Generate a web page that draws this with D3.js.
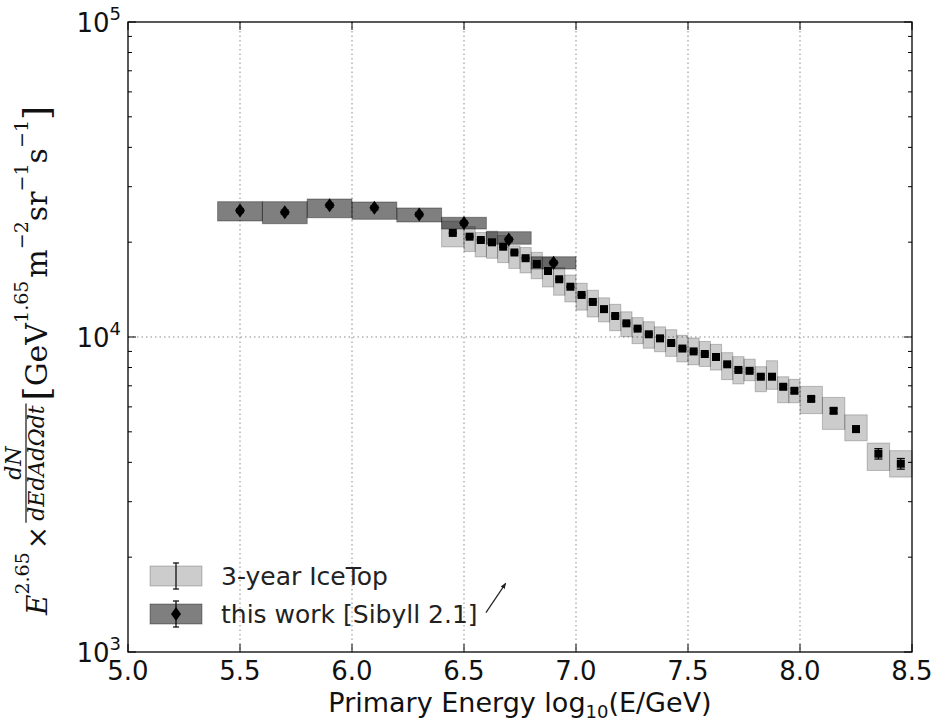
<!DOCTYPE html>
<html>
<head>
<meta charset="utf-8">
<script src="https://cdn.jsdelivr.net/npm/d3@7"></script>
<style>
  body { margin: 0; background: #fff; }
  svg { display: block; font-family: "DejaVu Sans", sans-serif; }
</style>
</head>
<body>
<div id="chart"></div>
<script>
let width = 936;
let height = 721;

// this work [Sibyll 2.1] - 0.2 wide bins
const sibyllEdges = [5.4, 5.6, 5.8, 6.0, 6.2, 6.4, 6.6, 6.8, 7.0];
const sibyllE = [5.5, 5.7, 5.9, 6.1, 6.3, 6.5, 6.7, 6.9];
const sibyllFlux = [25200, 24900, 26200, 25700, 24500, 23000, 20400, 17200];
const sibyllSysLo = [23350, 22890, 23910, 23640, 23180, 22020, 19700, 16440];
const sibyllSysHi = [26890, 26890, 27420, 26830, 25680, 23990, 21590, 17980];
const sibyllStat = [1.5, 1.5, 1.5, 1.5, 1.5, 1.5, 1.5, 1.5]; // percent

// 3-year IceTop
const icetopEdges = [6.4, 6.5, 6.55, 6.6, 6.65, 6.7, 6.75, 6.8, 6.85, 6.9, 6.95,
                     7.0, 7.05, 7.1, 7.15, 7.2, 7.25, 7.3, 7.35, 7.4, 7.45,
                     7.5, 7.55, 7.6, 7.65, 7.7, 7.75, 7.8, 7.85, 7.9, 7.95,
                     8.0, 8.1, 8.2, 8.3, 8.4, 8.5];
const icetopE = [6.45, 6.525, 6.575, 6.625, 6.675, 6.725, 6.775, 6.825, 6.875, 6.925,
                 6.975, 7.025, 7.075, 7.125, 7.175, 7.225, 7.275, 7.325, 7.375, 7.425,
                 7.475, 7.525, 7.575, 7.625, 7.675, 7.725, 7.775, 7.825, 7.875, 7.925,
                 7.975, 8.05, 8.15, 8.25, 8.35, 8.45];
const icetopFlux = [21400, 20820, 20320, 19980, 19350, 18550, 17790, 17050, 16200, 15250,
                    14440, 13600, 12920, 12260, 11660, 11050, 10630, 10200, 9900, 9570,
                    9190, 9000, 8830, 8640, 8190, 7860, 7810, 7480, 7480, 6950,
                    6750, 6360, 5830, 5100, 4260, 3960];
// systematic band, percent up / down
const icetopSysUp = [9, 7.6, 5.6, 8.5, 8.5, 5, 8.1, 8.9, 10.3, 8.9,
                     8.9, 8.9, 8.9, 8.6, 8.9, 8.8, 8.4, 9.6, 8.8, 10.2,
                     10.2, 10.3, 9.6, 9.7, 8.9, 10.2, 8.9, 7.6, 12.4, 7.6,
                     8.7, 9.6, 10.3, 11.0, 8.1, 10.0];
const icetopSysDown = [9.7, 10.3, 11.6, 11, 11, 11, 10.2, 10.2, 11, 11,
                       10.5, 10.5, 10.4, 8.9, 10.2, 9.3, 10.4, 9.7, 9.3, 9.3,
                       9.3, 9.3, 8.7, 9.1, 10.6, 9.7, 7.0, 10.4, 8.8, 11.0,
                       8.4, 10.2, 12.7, 8.2, 11.5, 9.3];
const icetopStat = [0.5, 0.5, 0.5, 0.5, 0.5, 0.5, 0.5, 0.5, 0.5, 0.5,
                    0.5, 0.5, 0.5, 0.5, 0.5, 0.5, 0.5, 0.6, 0.6, 0.6,
                    0.7, 0.7, 0.8, 0.8, 0.9, 1.0, 1.0, 1.1, 1.2, 1.3,
                    1.4, 1.5, 1.8, 2.2, 3.8, 3.9];

const xTicks = [5.0, 5.5, 6.0, 6.5, 7.0, 7.5, 8.0, 8.5];
const yTicks = [1e3, 1e4, 1e5];
const legendLabels = ["3-year IceTop", "this work [Sibyll 2.1]"];
// small arrow next to the legend, in data units [log10E, flux]
const arrowFrom = [6.598, 1333];
const arrowTo = [6.686, 1652];

let margin = {left: 128, right: 24, top: 22, bottom: 69};

const x = d3.scaleLinear().domain([5.0, 8.5]).range([margin.left, width - margin.right]);
const y = d3.scaleLog().domain([1e3, 1e5]).range([height - margin.bottom, margin.top]);

let svg = d3.select("#chart").append("svg")
    .attr("width", width)
    .attr("height", height);

const x0 = x.range()[0], x1 = x.range()[1];
const y0 = y.range()[0], y1 = y.range()[1];

// grid
const grid = svg.append("g")
    .attr("stroke", "#8a8a8a")
    .attr("stroke-width", 1)
    .attr("stroke-dasharray", "1.5,3");
grid.selectAll("line.gx")
    .data(xTicks.slice(1, -1))
    .join("line")
    .attr("x1", d => x(d)).attr("x2", d => x(d))
    .attr("y1", y1).attr("y2", y0);
grid.append("line")
    .attr("x1", x0).attr("x2", x1)
    .attr("y1", y(1e4)).attr("y2", y(1e4));

// IceTop systematic boxes
const icetop = icetopE.map((e, i) => ({
    lo: icetopEdges[i], hi: icetopEdges[i + 1], e: e, v: icetopFlux[i],
    top: icetopFlux[i] * (1 + icetopSysUp[i] / 100),
    bot: icetopFlux[i] * (1 - icetopSysDown[i] / 100),
    st: icetopStat[i]
}));
const sibyll = sibyllE.map((e, i) => ({
    lo: sibyllEdges[i], hi: sibyllEdges[i + 1], e: e, v: sibyllFlux[i],
    top: sibyllSysHi[i], bot: sibyllSysLo[i], st: sibyllStat[i]
}));

svg.append("g")
    .selectAll("rect")
    .data(icetop)
    .join("rect")
    .attr("x", d => x(d.lo))
    .attr("width", d => x(d.hi) - x(d.lo))
    .attr("y", d => y(d.top))
    .attr("height", d => y(d.bot) - y(d.top))
    .attr("fill", "#000").attr("fill-opacity", 0.2)
    .attr("stroke", "#000").attr("stroke-opacity", 0.22);

svg.append("g")
    .selectAll("rect")
    .data(sibyll)
    .join("rect")
    .attr("x", d => x(d.lo))
    .attr("width", d => x(d.hi) - x(d.lo))
    .attr("y", d => y(d.top))
    .attr("height", d => y(d.bot) - y(d.top))
    .attr("fill", "#000").attr("fill-opacity", 0.5)
    .attr("stroke", "#000").attr("stroke-opacity", 0.35);

// error bars
function errorbars(g, data) {
    const eb = g.selectAll("g").data(data).join("g").attr("stroke", "#000").attr("stroke-width", 1.2);
    eb.append("line")
        .attr("x1", d => x(d.e)).attr("x2", d => x(d.e))
        .attr("y1", d => y(d.v * (1 + d.st / 100))).attr("y2", d => y(d.v * (1 - d.st / 100)));
    eb.append("line")
        .attr("x1", d => x(d.e) - 4).attr("x2", d => x(d.e) + 4)
        .attr("y1", d => y(d.v * (1 + d.st / 100))).attr("y2", d => y(d.v * (1 + d.st / 100)));
    eb.append("line")
        .attr("x1", d => x(d.e) - 4).attr("x2", d => x(d.e) + 4)
        .attr("y1", d => y(d.v * (1 - d.st / 100))).attr("y2", d => y(d.v * (1 - d.st / 100)));
}
errorbars(svg.append("g"), icetop);
errorbars(svg.append("g"), sibyll);

const square = d3.symbol().type(d3.symbolSquare).size(64);
const diamond = "M0,-7L5,0L0,7L-5,0Z";

svg.append("g")
    .selectAll("path")
    .data(icetop)
    .join("path")
    .attr("transform", d => `translate(${x(d.e)},${y(d.v)})`)
    .attr("d", square)
    .attr("fill", "#000");

svg.append("g")
    .selectAll("path")
    .data(sibyll)
    .join("path")
    .attr("transform", d => `translate(${x(d.e)},${y(d.v)})`)
    .attr("d", diamond)
    .attr("fill", "#000");

// frame + ticks
svg.append("rect")
    .attr("x", x0).attr("y", y1)
    .attr("width", x1 - x0).attr("height", y0 - y1)
    .attr("fill", "none").attr("stroke", "#000").attr("stroke-width", 1.3);

const ticks = svg.append("g").attr("stroke", "#000").attr("stroke-width", 1);
ticks.selectAll("line.xb").data(xTicks).join("line")
    .attr("x1", d => x(d)).attr("x2", d => x(d))
    .attr("y1", y0).attr("y2", y0 - 8);
ticks.selectAll("line.xt").data(xTicks).join("line")
    .attr("x1", d => x(d)).attr("x2", d => x(d))
    .attr("y1", y1).attr("y2", y1 + 8);
const minor = y.ticks().filter(v => yTicks.indexOf(v) < 0);
ticks.selectAll("line.yl").data(minor).join("line")
    .attr("x1", x0).attr("x2", x0 + 4)
    .attr("y1", d => y(d)).attr("y2", d => y(d));
ticks.selectAll("line.yr").data(minor).join("line")
    .attr("x1", x1).attr("x2", x1 - 4)
    .attr("y1", d => y(d)).attr("y2", d => y(d));
ticks.selectAll("line.ylm").data(yTicks).join("line")
    .attr("x1", x0).attr("x2", x0 + 8)
    .attr("y1", d => y(d)).attr("y2", d => y(d));
ticks.selectAll("line.yrm").data(yTicks).join("line")
    .attr("x1", x1).attr("x2", x1 - 8)
    .attr("y1", d => y(d)).attr("y2", d => y(d));

// tick labels
svg.append("g")
    .selectAll("text")
    .data(xTicks)
    .join("text")
    .attr("x", d => x(d))
    .attr("y", y0 + 28)
    .attr("text-anchor", "middle")
    .style("font-size", "26px")
    .attr("fill", "#111")
    .text(d => d.toFixed(1));

const yl = svg.append("g")
    .selectAll("text")
    .data(yTicks)
    .join("text")
    .attr("x", x0 - 7)
    .attr("y", d => y(d) + 10)
    .attr("text-anchor", "end")
    .attr("fill", "#111")
    .style("font-size", "26px");
yl.append("tspan").text("10");
yl.append("tspan").attr("dy", -12).style("font-size", "18px").text(d => Math.round(Math.log10(d)));

// x axis title
const xt = svg.append("text")
    .attr("x", (x0 + x1) / 2)
    .attr("y", 712)
    .attr("text-anchor", "middle")
    .attr("fill", "#111")
    .style("font-size", "27px");
xt.append("tspan").text("Primary Energy log");
xt.append("tspan").attr("dy", 6).style("font-size", "18px").text("10");
xt.append("tspan").attr("dy", -6).text("(E/GeV)");

// y axis title (math, serif)
const ya = svg.append("g")
    .attr("transform", "translate(47,615) rotate(-90)")
    .style("font-family", "'DejaVu Serif', serif")
    .attr("fill", "#111");
let cx = 0;
function put(str, size, dy, italic) {
    const t = ya.append("text").attr("x", cx).attr("y", dy)
        .style("font-size", size + "px")
        .style("font-style", italic ? "italic" : "normal")
        .text(str);
    cx += t.node().getComputedTextLength();
    return t;
}
put("E", 28, 0, true);
put("2.65", 19, -18, false);
cx += 3;
put("\u00d7", 28, 0, false);
cx += 3;
// fraction
const fx = cx;
const num = ya.append("text").attr("y", -26).style("font-size", "22px").style("font-style", "italic").text("dN");
const den = ya.append("text").attr("y", -3).style("font-size", "22px").style("font-style", "italic").text("dEdAd\u03a9dt");
const fw = Math.max(num.node().getComputedTextLength(), den.node().getComputedTextLength()) + 4;
num.attr("x", fx + fw / 2).attr("text-anchor", "middle");
den.attr("x", fx + fw / 2).attr("text-anchor", "middle");
ya.append("line").attr("x1", fx).attr("x2", fx + fw).attr("y1", -21).attr("y2", -21)
    .attr("stroke", "#111").attr("stroke-width", 1.2);
cx = fx + fw + 3;
put("[", 36, 2, false);
put("GeV", 30, 0, false);
put("1.65", 19, -19, false);
cx += 3;
put("m", 30, 0, false);
put("\u22122", 19, -19, false);
put("sr", 30, 0, false);
put("\u22121", 19, -19, false);
put("s", 30, 0, false);
put("\u22121", 19, -19, false);
put("]", 36, 2, false);

// legend
const legend = svg.append("g");
const legRows = [
    {label: legendLabels[0], op: 0.2, sop: 0.22, y: 576, mark: square},
    {label: legendLabels[1], op: 0.5, sop: 0.35, y: 614, mark: diamond}
];
const lr = legend.selectAll("g").data(legRows).join("g")
    .attr("transform", d => `translate(0,${d.y})`);
lr.append("rect")
    .attr("x", 150).attr("y", -10).attr("width", 52).attr("height", 20)
    .attr("fill", "#000").attr("fill-opacity", d => d.op)
    .attr("stroke", "#000").attr("stroke-opacity", d => d.sop);
lr.append("line").attr("x1", 176).attr("x2", 176).attr("y1", -13).attr("y2", 13)
    .attr("stroke", "#000").attr("stroke-width", 1.2);
lr.append("line").attr("x1", 173).attr("x2", 179).attr("y1", -13).attr("y2", -13)
    .attr("stroke", "#000").attr("stroke-width", 1.2);
lr.append("line").attr("x1", 173).attr("x2", 179).attr("y1", 13).attr("y2", 13)
    .attr("stroke", "#000").attr("stroke-width", 1.2);
lr.append("path").attr("transform", "translate(176,0)").attr("d", d => d.mark).attr("fill", "#000");
lr.append("text")
    .attr("x", 221).attr("y", 9)
    .style("font-size", "25px")
    .attr("fill", "#222")
    .text(d => d.label);

// arrow annotation
svg.append("defs").append("marker")
    .attr("id", "ah").attr("viewBox", "0 0 10 10").attr("refX", 9).attr("refY", 5)
    .attr("markerWidth", 5).attr("markerHeight", 5).attr("orient", "auto")
    .append("path").attr("d", "M0,1L10,5L0,9Z").attr("fill", "#222");
svg.append("line")
    .attr("x1", x(arrowFrom[0])).attr("y1", y(arrowFrom[1]))
    .attr("x2", x(arrowTo[0])).attr("y2", y(arrowTo[1]))
    .attr("stroke", "#222").attr("stroke-width", 1.2)
    .attr("marker-end", "url(#ah)");
</script>
</body>
</html>
